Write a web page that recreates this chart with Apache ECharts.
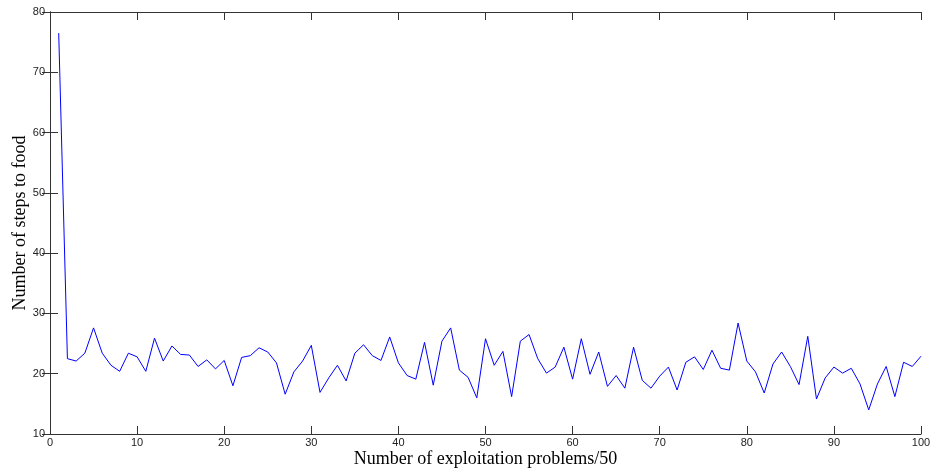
<!DOCTYPE html>
<html>
<head>
<meta charset="utf-8">
<script src="https://cdn.jsdelivr.net/npm/echarts@6/dist/echarts.min.js"></script>
<style>
  html, body { margin: 0; padding: 0; background: #fff; }
  #main { width: 930px; height: 472px; }
</style>
</head>
<body>
<div id="main"></div>
<script>
// problem index 1..100
const problems = Array.from({ length: 100 }, (_, i) => i + 1);
// average number of steps to food
const steps = [
  76.5, 22.5, 22.1, 23.4, 27.6, 23.4, 21.4, 20.4, 23.4, 22.8,
  20.4, 25.9, 22.1, 24.6, 23.2, 23.1, 21.2, 22.3, 20.8, 22.2,
  18.0, 22.7, 23.0, 24.3, 23.6, 21.8, 16.6, 20.3, 22.1, 24.7,
  16.9, 19.3, 21.4, 18.8, 23.4, 24.8, 23.0, 22.2, 26.1, 21.8,
  19.7, 19.1, 25.2, 18.1, 25.4, 27.6, 20.6, 19.4, 16.0, 25.8,
  21.4, 23.7, 16.2, 25.4, 26.5, 22.5, 20.1, 21.1, 24.4, 19.1,
  25.8, 19.9, 23.6, 17.9, 19.7, 17.6, 24.4, 18.9, 17.6, 19.6,
  21.1, 17.3, 21.9, 22.8, 20.7, 23.9, 20.9, 20.6, 28.4, 22.1,
  20.3, 16.8, 21.6, 23.6, 21.2, 18.2, 26.2, 15.8, 19.3, 21.1,
  20.1, 20.9, 18.3, 14.0, 18.3, 21.2, 16.2, 21.9, 21.2, 22.9
];
const xTicks = { min: 0, max: 100, interval: 10 };
const yTicks = { min: 10, max: 80, interval: 10 };

const tickFont = {
  fontFamily: '"Liberation Sans Narrow", "Liberation Sans", Arial, sans-serif',
  fontSize: 11,
  color: '#222'
};
const nameFont = {
  fontFamily: '"Liberation Serif", "Times New Roman", serif',
  fontSize: 18,
  color: '#000'
};
const lineStyle = { color: '#333', width: 1 };

const chart = echarts.init(document.getElementById('main'));
chart.setOption({
  animation: false,
  backgroundColor: '#fff',
  grid: { left: 50, right: 9, top: 12, bottom: 38, containLabel: false, outerBoundsMode: 'none' },
  xAxis: [
    {
      type: 'value', position: 'bottom', ...xTicks,
      name: 'Number of exploitation problems/50',
      nameLocation: 'middle', nameGap: 16, nameMoveOverlap: false, nameTextStyle: nameFont,
      axisLine: { lineStyle }, axisTick: { inside: true, length: 8, lineStyle },
      axisLabel: { ...tickFont, margin: 3 },
      splitLine: { show: false }
    },
    {
      type: 'value', position: 'top', ...xTicks,
      axisLine: { lineStyle }, axisTick: { inside: true, length: 8, lineStyle },
      axisLabel: { show: false }, splitLine: { show: false }
    }
  ],
  yAxis: [
    {
      type: 'value', position: 'left', ...yTicks,
      name: 'Number of steps to food',
      nameLocation: 'middle', nameGap: 21, nameMoveOverlap: false, nameTextStyle: nameFont,
      axisLine: { lineStyle }, axisTick: { inside: true, length: 8, lineStyle },
      axisLabel: { ...tickFont, margin: 5 },
      splitLine: { show: false }
    },
    {
      type: 'value', position: 'right', ...yTicks,
      axisLine: { lineStyle }, axisTick: { inside: true, length: 8, lineStyle },
      axisLabel: { show: false }, splitLine: { show: false }
    }
  ],
  series: [
    {
      type: 'line',
      xAxisIndex: 0, yAxisIndex: 0,
      data: problems.map((p, i) => [p, steps[i]]),
      showSymbol: false,
      lineStyle: { color: '#0000ff', width: 1 },
      itemStyle: { color: '#0000ff' }
    }
  ]
});
</script>
</body>
</html>
